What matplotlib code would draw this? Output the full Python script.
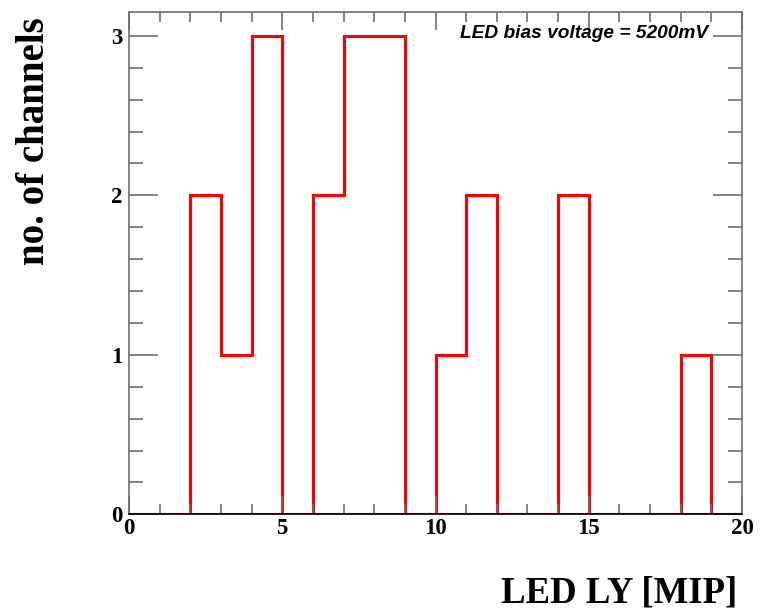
import numpy as np
import matplotlib
matplotlib.use("Agg")
import matplotlib.pyplot as plt
from matplotlib.ticker import MultipleLocator

# LED light yield per channel, 1 MIP bins from 0 to 20
bin_edges = list(range(0, 21))
counts = [0, 0, 2, 1, 3, 0, 2, 3, 3, 0, 1, 2, 0, 0, 2, 0, 0, 0, 1, 0]
x_ticks = [0, 5, 10, 15, 20]
y_ticks = [0, 1, 2, 3]

serif = "Liberation Serif"
sans = "Liberation Sans"
frame = "#6e6e6e"

fig = plt.figure(figsize=(7.65, 6.1), dpi=100)
ax = fig.add_axes([0.1686, 0.1569, 0.8014, 0.8234])

ax.stairs(counts, bin_edges, color="red", linewidth=2.2, baseline=None)
ax.plot([0, 20], [0, 0], color="red", linewidth=2.2)

ax.set_xlim(0, 20)
ax.set_ylim(0, 3.15)
ax.set_xticks(x_ticks)
ax.set_yticks(y_ticks)
ax.xaxis.set_minor_locator(MultipleLocator(1))
ax.yaxis.set_minor_locator(MultipleLocator(0.2))

ax.tick_params(which="both", direction="in", top=True, right=True, colors=frame)
ax.tick_params(axis="x", which="major", length=13, width=1.2)
ax.tick_params(axis="x", which="minor", length=7, width=1.2)
ax.tick_params(axis="y", which="major", length=21, width=1.2)
ax.tick_params(axis="y", which="minor", length=10, width=1.2)
ax.tick_params(labelcolor="black", labelsize=16.5)
ax.tick_params(axis="x", pad=3)
ax.tick_params(axis="y", pad=5)

for lbl in ax.get_xticklabels() + ax.get_yticklabels():
    lbl.set_family(serif)
    lbl.set_weight("bold")

for side in ["top", "left", "right"]:
    ax.spines[side].set_color(frame)
    ax.spines[side].set_linewidth(1.2)
ax.spines["bottom"].set_color("black")
ax.spines["bottom"].set_linewidth(1.2)

# axis titles, ROOT style: aligned to the far ends of the axes
fig.text(0.9634, 0.0115, "LED LY [MIP]", ha="right", va="baseline",
         family=serif, weight="bold", fontsize=26.5)
ax.set_ylabel("no. of channels", family=serif, weight="bold", fontsize=28)
ax.yaxis.set_label_coords(-0.124, 0.99)
ax.yaxis.label.set_horizontalalignment("right")

ax.text(0.944, 0.975, "LED bias voltage = 5200mV", transform=ax.transAxes,
        ha="right", va="top", family=sans, weight="bold", style="italic",
        fontsize=13.8)

fig.savefig("out.png", dpi=100)
